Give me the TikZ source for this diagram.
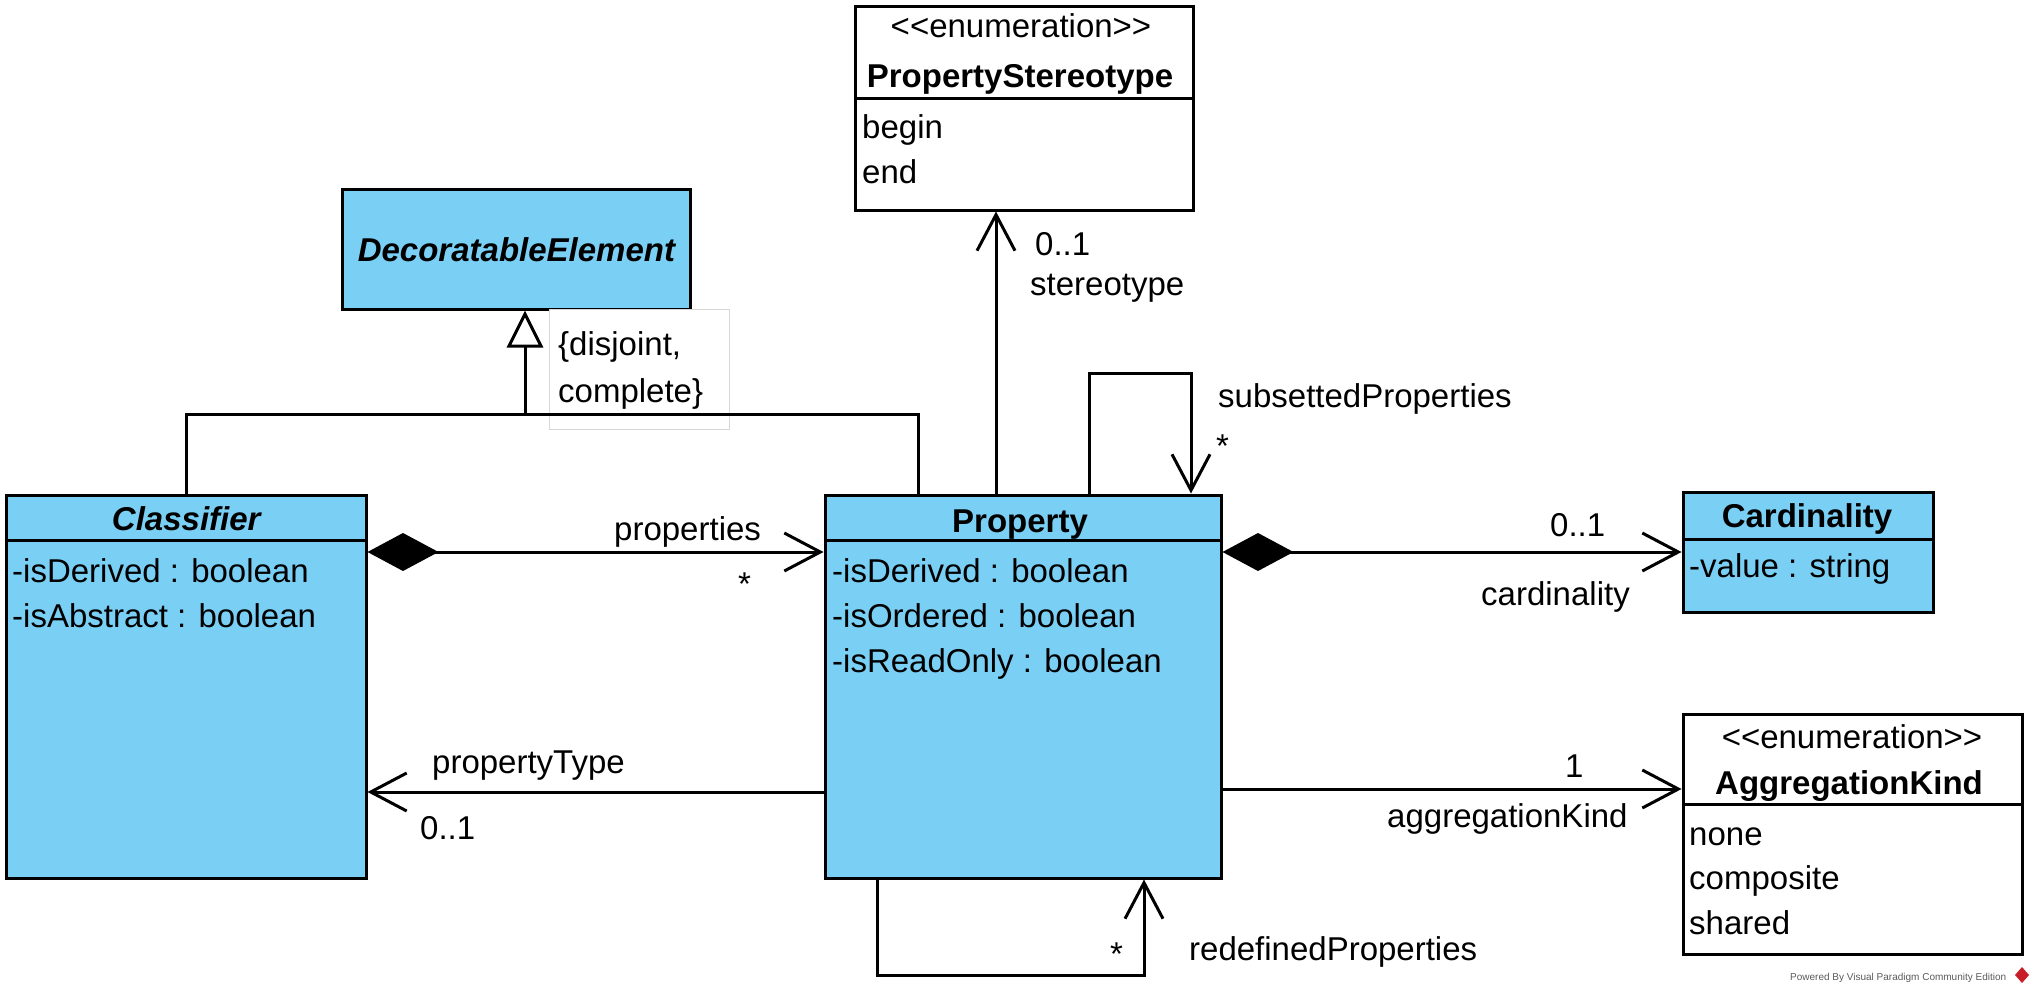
\documentclass[tikz,border=0pt]{standalone}
\usepackage{fontspec}
\setmainfont{Liberation Sans}
\usetikzlibrary{arrows.meta}
\definecolor{vpblue}{RGB}{122,207,245}
\definecolor{notegray}{RGB}{215,215,215}
\definecolor{wmgray}{RGB}{90,90,90}
\definecolor{vpred}{RGB}{200,30,40}
\tikzset{
  umlbox/.style={draw, line width=3pt, inner sep=0pt},
  blueclass/.style={umlbox, fill=vpblue},
  enumclass/.style={umlbox, fill=white},
  txt/.style={inner sep=0pt, anchor=base west},
  ctitle/.style={inner sep=0pt, anchor=base, font=\fontsize{33}{39}\selectfont\bfseries},
  assoc/.style={line width=3pt, -{Straight Barb[length=36pt,width=38pt]}},
  compos/.style={line width=3pt, {Diamond[length=71pt,width=38pt]}-{Straight Barb[length=36pt,width=38pt]}},
  genline/.style={line width=3pt, -{Triangle[open,length=37pt,width=36pt,fill=white]}},
}
\begin{document}
\begin{tikzpicture}[x=1pt, y=-1pt, font=\fontsize{33}{39}\selectfont]
  \useasboundingbox (0,0) rectangle (2034,993);

  % classes
  \node[blueclass, minimum width=348pt, minimum height=120pt] (decElem) at (516,249) {};
  \node[ctitle] (decTitle) at (517,261) {\textit{DecoratableElement}};

  \node[blueclass, minimum width=360pt, minimum height=45pt] (clsHead) at (186,517.5) {};
  \node[blueclass, minimum width=360pt, minimum height=338pt] (clsBody) at (186,709) {};
  \node[ctitle] (clsTitle) at (187,530) {\textit{Classifier}};
  \node[txt] (clsAttr1) at (12,582) {-isDerived : boolean};
  \node[txt] (clsAttr2) at (12,627) {-isAbstract : boolean};

  \node[blueclass, minimum width=396pt, minimum height=45pt] (propHead) at (1023,517.5) {};
  \node[blueclass, minimum width=396pt, minimum height=338pt] (propBody) at (1023,709) {};
  \node[ctitle] (propTitle) at (1020,532) {Property};
  \node[txt] (propAttr1) at (832,582) {-isDerived : boolean};
  \node[txt] (propAttr2) at (832,627) {-isOrdered : boolean};
  \node[txt] (propAttr3) at (832,672) {-isReadOnly : boolean};

  \node[blueclass, minimum width=250pt, minimum height=47pt] (cardHead) at (1808,515.5) {};
  \node[blueclass, minimum width=250pt, minimum height=73pt] (cardBody) at (1808,575.5) {};
  \node[ctitle] (cardTitle) at (1807,527) {Cardinality};
  \node[txt] (cardAttr) at (1689,577) {-value : string};

  \node[enumclass, minimum width=338pt, minimum height=92pt] (stereoHead) at (1024,52) {};
  \node[enumclass, minimum width=338pt, minimum height=112pt] (stereoBody) at (1024,154) {};
  \node[inner sep=0pt, anchor=base] (stereoKind) at (1021,37) {<\kern0pt<enumeration>\kern0pt>};
  \node[ctitle] (stereoTitle) at (1020,87) {PropertyStereotype};
  \node[txt] (stereoLit1) at (862,138) {begin};
  \node[txt] (stereoLit2) at (862,183) {end};

  \node[enumclass, minimum width=339pt, minimum height=90pt] (aggHead) at (1852.5,759) {};
  \node[enumclass, minimum width=339pt, minimum height=150pt] (aggBody) at (1852.5,879) {};
  \node[inner sep=0pt, anchor=base] (aggKind) at (1852,748) {<\kern0pt<enumeration>\kern0pt>};
  \node[ctitle] (aggTitle) at (1849,794) {AggregationKind};
  \node[txt] (aggLit1) at (1689,845) {none};
  \node[txt] (aggLit2) at (1689,889) {composite};
  \node[txt] (aggLit3) at (1689,934) {shared};

  % constraint note
  \node[draw=notegray, line width=1pt, fill=white, minimum width=180pt, minimum height=120pt] (note) at (639,369) {};
  \node[txt] (noteLine1) at (558,355) {\{disjoint,};
  \node[txt] (noteLine2) at (558,402) {complete\}};

  % generalization
  \coordinate (genJoin) at (525,414);
  \coordinate (genRight) at (918,414);
  \draw[line width=3pt] (clsHead.north) |- (genRight) -- (propHead.north -| genRight);
  \draw[genline] (genJoin) -- (decElem.south -| genJoin);

  % associations
  \coordinate (stereoX) at (996,0);
  \coordinate (subA) at (1089,373);
  \coordinate (subB) at (1191,373);
  \coordinate (compY) at (0,552);
  \coordinate (ptY) at (0,792);
  \coordinate (aggY) at (0,789);
  \coordinate (redA) at (877,975);
  \coordinate (redB) at (1144,975);

  \draw[assoc] (propHead.north -| stereoX) -- (stereoBody.south -| stereoX);
  \draw[assoc] (propHead.north -| subA) -- (subA) -- (subB) -- (propHead.north -| subB);
  \draw[compos] (clsBody.east |- compY) -- (propBody.west |- compY);
  \draw[compos] (propBody.east |- compY) -- (cardBody.west |- compY);
  \draw[assoc] (propBody.west |- ptY) -- (clsBody.east |- ptY);
  \draw[assoc] (propBody.east |- aggY) -- (aggHead.west |- aggY);
  \draw[assoc] (propBody.south -| redA) -- (redA) -- (redB) -- (propBody.south -| redB);

  % role names and multiplicities
  \node[txt] (stereoMult) at (1035,255) {0..1};
  \node[txt] (stereoRole) at (1030,295) {stereotype};
  \node[txt] (subRole) at (1218,407) {subsettedProperties};
  \node[txt] (subMult) at (1216,457) {*};
  \node[txt] (propRole) at (614,540) {properties};
  \node[txt] (propMult) at (738,595) {*};
  \node[txt] (ptRole) at (432,773) {propertyType};
  \node[txt] (ptMult) at (420,839) {0..1};
  \node[txt] (cardMult) at (1550,536) {0..1};
  \node[txt] (cardRole) at (1481,605) {cardinality};
  \node[txt] (aggMult) at (1565,777) {1};
  \node[txt] (aggRole) at (1387,827) {aggregationKind};
  \node[txt] (redMult) at (1110,965) {*};
  \node[txt] (redRole) at (1189,960) {redefinedProperties};

  % watermark
  \node[txt, font=\fontsize{10}{12}\selectfont, text=wmgray] (wmark) at (1790,980) {Powered By Visual Paradigm Community Edition};
  \fill[vpred] (2022,967) -- (2029,975) -- (2022,983) -- (2015,975) -- cycle;
\end{tikzpicture}
\end{document}
